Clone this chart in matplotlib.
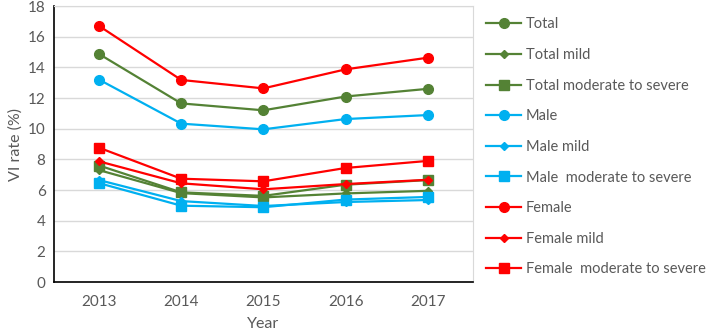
import matplotlib
matplotlib.use("Agg")
import matplotlib.pyplot as plt

# -----------------------------
# data
# -----------------------------
years = ["2013", "2014", "2015", "2016", "2017"]

total = [14.87, 11.65, 11.2, 12.1, 12.6]
total_mild = [7.3, 5.8, 5.52, 5.78, 5.95]
total_modsev = [7.6, 5.85, 5.62, 6.35, 6.65]
male = [13.2, 10.33, 9.96, 10.63, 10.89]
male_mild = [6.65, 5.28, 4.96, 5.22, 5.35]
male_modsev = [6.45, 4.98, 4.88, 5.38, 5.55]
female = [16.7, 13.18, 12.63, 13.87, 14.63]
female_mild = [7.87, 6.44, 6.05, 6.39, 6.67]
female_modsev = [8.76, 6.74, 6.57, 7.44, 7.9]

labels = ["Total", "Total mild", "Total moderate to severe",
          "Male", "Male mild", "Male  moderate to severe",
          "Female", "Female mild", "Female  moderate to severe"]

GREEN = "#548235"
BLUE = "#00B0F0"
RED = "#FF0000"
TXT = "#595959"

series = [
    (total, GREEN, "o", 7),
    (total_mild, GREEN, "D", 4.5),
    (total_modsev, GREEN, "s", 6.5),
    (male, BLUE, "o", 7),
    (male_mild, BLUE, "D", 4.5),
    (male_modsev, BLUE, "s", 6.5),
    (female, RED, "o", 7),
    (female_mild, RED, "D", 4.5),
    (female_modsev, RED, "s", 6.5),
]

plt.rcParams["font.family"] = ["Lato", "DejaVu Sans"]

fig = plt.figure(figsize=(7.09, 3.35), dpi=100)
ax = fig.add_axes([0.076, 0.158, 0.591, 0.824])

for (vals, col, mk, ms), lab in zip(series, labels):
    ax.plot(years, vals, color=col, marker=mk, markersize=ms, lw=1.6,
            label=lab)

ax.set_ylim(0, 18)
ax.set_yticks(range(0, 19, 2))
ax.set_xlim(-0.55, 4.55)
ax.grid(axis="y", color="#d9d9d9", lw=1)
ax.set_axisbelow(True)
for side in ["top", "right"]:
    ax.spines[side].set_color("#d9d9d9")
for side in ["left", "bottom"]:
    ax.spines[side].set_color("black")
    ax.spines[side].set_linewidth(1.2)
ax.tick_params(length=0, colors=TXT, labelsize=11, pad=6)
ax.tick_params(axis="x", pad=9)
ax.set_xlabel("Year", color=TXT, fontsize=11.5, labelpad=6)
ax.set_ylabel("VI rate (%)", color=TXT, fontsize=11.5, labelpad=4)

leg = fig.legend(loc="upper left", bbox_to_anchor=(0.686, 0.948),
                 frameon=False, fontsize=10.5, labelspacing=1.14,
                 handlelength=2.35, handletextpad=0.35,
                 borderpad=0, borderaxespad=0)
for t in leg.get_texts():
    t.set_color(TXT)

fig.savefig("out.png", dpi=100)
